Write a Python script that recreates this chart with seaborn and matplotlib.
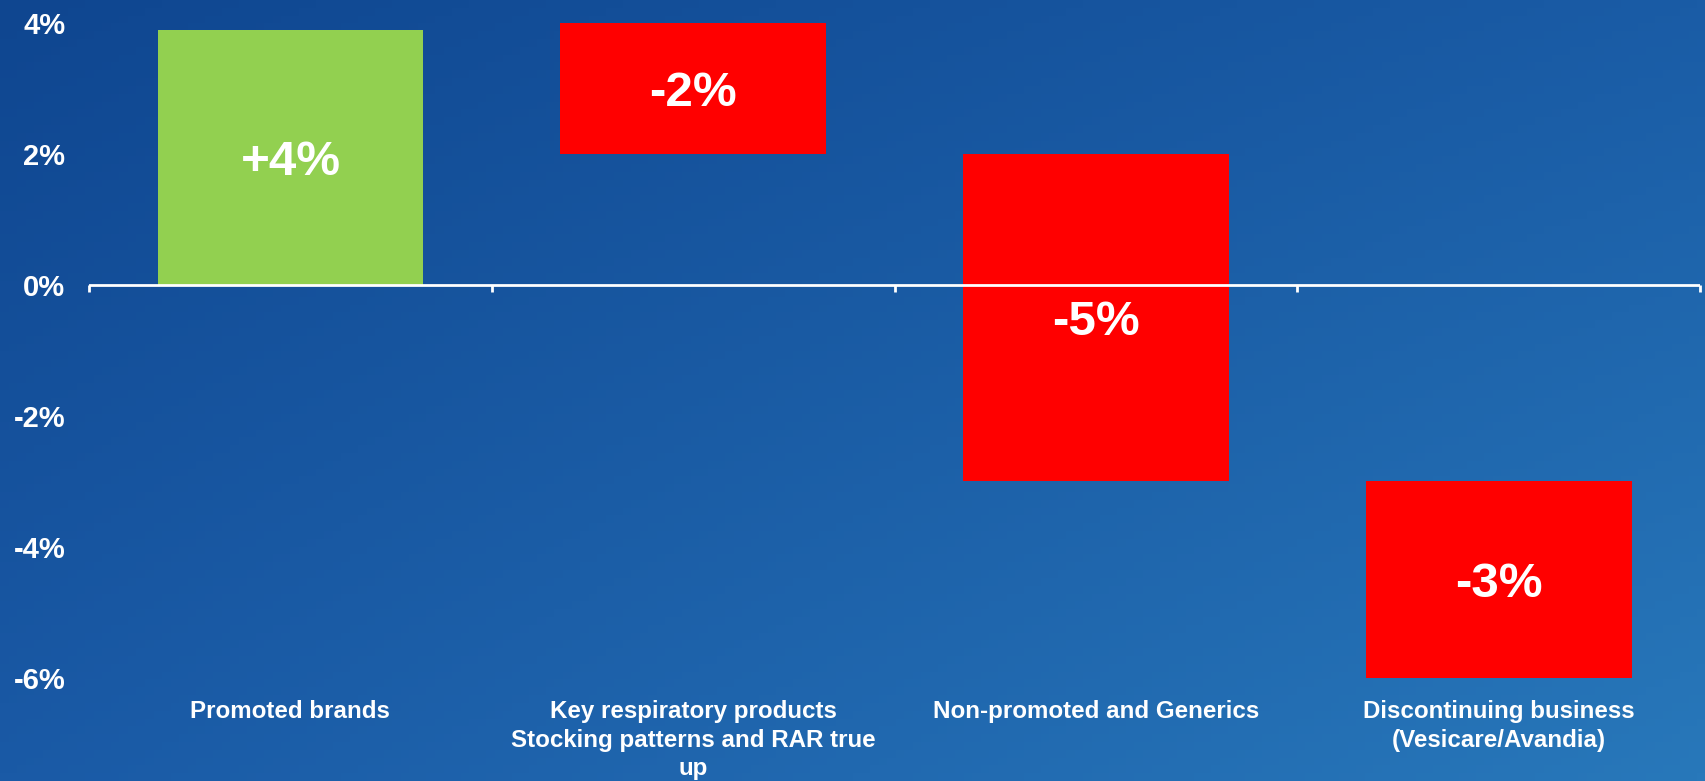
import numpy as np
import pandas as pd
import matplotlib
matplotlib.use("Agg")
import matplotlib.pyplot as plt
import seaborn as sns

# ---- data ----
categories = [
    "Promoted brands",
    "Key respiratory products\nStocking patterns and RAR true\nup",
    "Non-promoted and Generics",
    "Discontinuing business\n(Vesicare/Avandia)",
]
bar_start = [0.0, 4.0, 2.0, -3.0]
bar_end = [3.9, 2.0, -3.0, -6.0]
bar_labels = ["+4%", "-2%", "-5%", "-3%"]
bar_colors = ["#92D050", "#FF0000", "#FF0000", "#FF0000"]
ytick_values = [-6, -4, -2, 0, 2, 4]
ytick_labels = ["-6%", "-4%", "-2%", "0%", "2%", "4%"]

df = pd.DataFrame({
    "category": categories,
    "start": bar_start,
    "height": np.array(bar_end) - np.array(bar_start),
})

sns.set_theme(style="white")
plt.rcParams["font.family"] = ["Liberation Sans", "DejaVu Sans"]
plt.rcParams["font.weight"] = "bold"

fig = plt.figure(figsize=(17.06, 7.81), dpi=100)

# background gradient
bg = fig.add_axes([0, 0, 1, 1], zorder=-10)
tl = np.array([15, 70, 144]) / 255
tr = np.array([26, 92, 166]) / 255
bl = np.array([26, 90, 166]) / 255
br = np.array([40, 120, 186]) / 255
u = np.linspace(0, 1, 200)[None, :, None]
v = np.linspace(0, 1, 100)[:, None, None]
grad = (1 - v) * ((1 - u) * tl + u * tr) + v * ((1 - u) * bl + u * br)
bg.imshow(grad, aspect="auto", extent=[0, 1, 0, 1], origin="upper")
bg.set_axis_off()

ax = fig.add_axes([0.0522, 0.1319, 0.9443, 0.8387])
ax.patch.set_alpha(0)

sns.barplot(data=df, x="category", y="height", hue="category",
            palette=bar_colors, saturation=1, width=0.66, legend=False,
            ax=ax, linewidth=0)
for patch, s in zip(ax.patches, df["start"]):
    patch.set_y(s)

ax.set_ylim(-6, 4)
ax.set_xlim(-0.5, len(categories) - 0.5)

# bar labels
for i, (s, e, lab) in enumerate(zip(bar_start, bar_end, bar_labels)):
    ax.text(i, (s + e) / 2, lab, ha="center", va="center_baseline",
            fontsize=35.5, fontweight="bold", color="white")

# zero line with category boundary ticks
ax.axhline(0, color="white", lw=2, zorder=3)
bounds = np.arange(len(categories) + 1) - 0.5
ax.vlines(bounds, 0, -0.11, color="white", lw=2, zorder=3, clip_on=False)

for sp in ax.spines.values():
    sp.set_visible(False)

ax.set_yticks(ytick_values, ytick_labels)
ax.tick_params(axis="y", length=0, pad=17, labelsize=21, labelcolor="white")
ax.set_xticks(range(len(categories)), categories)
ax.tick_params(axis="x", length=0, pad=16, labelsize=17.4, labelcolor="white")
for t in ax.get_xticklabels() + ax.get_yticklabels():
    t.set_fontweight("bold")
for t in ax.get_xticklabels():
    t.set_linespacing(1.3)
ax.set_xlabel("")
ax.set_ylabel("")
ax.grid(False)

fig.savefig("out.png", dpi=100)
